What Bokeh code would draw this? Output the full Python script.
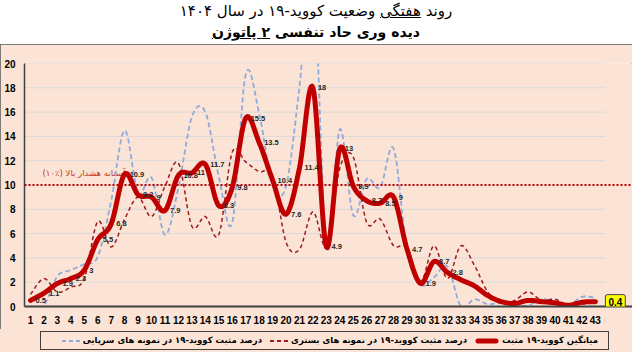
import numpy as np
from bokeh.plotting import figure
from bokeh.models import Range1d, FixedTicker, Span, Label, Div
from bokeh.layouts import column
from bokeh.embed import file_html
from bokeh.resources import INLINE
from bokeh.core.properties import value

# ---------------- data ----------------
weeks = list(range(1, 44))
mean_pos = [0.5, 1.1, 1.9, 2.3, 3, 5.5, 6.8, 10.9, 9.2, 9, 7.9, 10.8, 11, 11.7, 8.3,
            9.8, 15.5, 13.5, 10.4, 7.6, 11.4, 18, 4.9, 13, 9.9, 8.7, 8.5, 9, 4.7, 1.9,
            3.7, 2.8, 2.2, 1.7, 0.9, 0.4, 0.25, 0.5, 0.4, 0.3, 0.1, 0.35, 0.4]
inpatient = [1.0, 2.3, 1.2, 1.6, 2.3, 7.0, 4.9, 7.2, 9.0, 7.4, 9.9, 11.8, 6.6, 7.4, 5.9,
             12.7, 11.9, 11.1, 10.8, 5.3, 4.7, 7.8, 5.0, 11.4, 12.3, 6.9, 7.2, 5.0, 4.9, 2.0,
             5.0, 2.3, 5.0, 3.4, 1.2, 0.3, 0.5, 1.2, 0.5, 0.6, 0.1, 0.2, 0.3]
outpatient = [0.0, 0.1, 2.5, 3.0, 3.5, 4.1, 8.7, 14.5, 9.3, 10.6, 5.9, 9.8, 15.6, 16.0, 10.7,
              6.9, 19.1, 15.9, 10.0, 9.9, 18.1, 28.0, 4.8, 14.6, 7.5, 10.5, 9.8, 13.0, 4.5, 1.8,
              2.4, 3.3, 0.0, 0.6, 0.2, 0.3, 0.1, 0.1, 0.6, 0.4, 0.1, 0.8, 0.7]
labelled_weeks = 32
threshold = 10
y_ticks = list(range(0, 21, 2))

name_mean = "میانگین کووید-۱۹ مثبت"
name_in = "درصد  مثبت کووید-۱۹ در نمونه های بستری"
name_out = "درصد  مثبت کووید-۱۹ در نمونه های سرپایی"
threshold_text = "آستانه هشدار بالا (٪۱۰)"
title1 = 'روند <u>هفتگی</u> وضعیت کووید-۱۹ در سال ۱۴۰۴'
title2 = 'دیده وری حاد تنفسی <u>۲ پاتوژن</u>'


def smooth(xs, ys, n=14):
    """Excel-like smoothed line (cubic Bezier through the points)."""
    xs = np.asarray(xs, float)
    ys = np.asarray(ys, float)
    m = len(xs)
    px, py = [], []
    for i in range(m - 1):
        i0 = max(i - 1, 0)
        i3 = min(i + 2, m - 1)
        x1, y1, x2, y2 = xs[i], ys[i], xs[i + 1], ys[i + 1]
        c1x = x1 + (x2 - xs[i0]) / 6.0
        c1y = y1 + (y2 - ys[i0]) / 6.0
        c2x = x2 - (xs[i3] - x1) / 6.0
        c2y = y2 - (ys[i3] - y1) / 6.0
        t = np.linspace(0, 1, n, endpoint=(i == m - 2))
        a = (1 - t) ** 3
        b = 3 * (1 - t) ** 2 * t
        c = 3 * (1 - t) * t ** 2
        d = t ** 3
        px.extend(a * x1 + b * c1x + c * c2x + d * x2)
        py.extend(a * y1 + b * c1y + c * c2y + d * y2)
    return px, py


PINK = "#FBE4D5"
DARK = "#404040"
NUMFONT = "Liberation Sans"
ARFONT = "DejaVu Sans"
C_OUT, C_IN, C_MEAN = "#8FAADC", "#9E1B1B", "#C00000"
OUT_STYLE = dict(line_color=C_OUT, line_width=1.8, line_dash="5 3")
IN_STYLE = dict(line_color=C_IN, line_width=1.5, line_dash="4 3")
MEAN_STYLE = dict(line_color=C_MEAN, line_width=5, line_join="round", line_cap="round")

x_start = weeks[0] - 0.446
x_end = weeks[-1] + 2.76

p = figure(width=632, height=285, output_backend="svg", toolbar_location=None,
           x_range=Range1d(x_start, x_end), y_range=Range1d(0, 20),
           min_border_left=24, min_border_right=0, min_border_top=19, min_border_bottom=23,
           background_fill_color=PINK, border_fill_color=PINK, outline_line_color=None,
           margin=(0, 0, 0, 0))
p.grid.visible = False

# gridlines
gx1 = weeks[-1] + 0.75
p.segment(x0=[x_start] * (len(y_ticks) - 1), x1=[gx1] * (len(y_ticks) - 1),
          y0=y_ticks[1:], y1=y_ticks[1:], line_color="#D9D9D9", line_width=1)

# threshold
p.add_layout(Span(location=threshold, dimension="width", line_color=C_MEAN,
                  line_width=1.8, line_dash="2 2"))
p.add_layout(Label(x=weeks[0], y=threshold, x_offset=12, y_offset=12, text=threshold_text,
                   text_font=ARFONT, text_font_size="8.5px", text_color="#C0392B",
                   text_baseline="middle", level="underlay"))

# series
ox, oy = smooth(weeks, outpatient)
ix, iy = smooth(weeks, inpatient)
mx, my = smooth(weeks, mean_pos)
p.line(ox, oy, **OUT_STYLE)
p.line(ix, iy, **IN_STYLE)
p.line(mx, my, **MEAN_STYLE)

# data labels
label_text = [f"{v:g}" for v in mean_pos[:labelled_weeks]]
p.text(x=weeks[:labelled_weeks], y=mean_pos[:labelled_weeks], text=label_text,
       x_offset=5, text_baseline="middle", text_font=value(NUMFONT),
       text_font_size="7.5px", text_font_style="bold", text_color="#262626")

p.add_layout(Label(x=weeks[-1], y=mean_pos[-1], x_offset=10, text=f"{mean_pos[-1]:g}",
                   text_baseline="middle", text_font=NUMFONT, text_font_size="10px",
                   text_font_style="bold", text_color="#000000",
                   background_fill_color="#FFFF00", border_line_color=DARK,
                   border_line_width=1, padding=3, border_radius=2))

# axes
p.xaxis.ticker = FixedTicker(ticks=weeks)
p.yaxis.ticker = FixedTicker(ticks=y_ticks)
for ax in (p.xaxis, p.yaxis):
    ax.major_tick_out = 0
    ax.major_tick_in = 0
    ax.minor_tick_out = 0
    ax.minor_tick_in = 0
    ax.axis_line_color = DARK
    ax.major_label_text_font = NUMFONT
    ax.major_label_text_font_size = "10px"
    ax.major_label_text_font_style = "bold"
    ax.major_label_text_color = "#000000"
p.xaxis.axis_line_width = 2
p.yaxis.axis_line_width = 1.5
p.xaxis.major_label_standoff = 9
p.yaxis.major_label_standoff = 9


# legend strip (HTML, right-to-left like the original)
def swatch(color, solid):
    if solid:
        line = (f'<line x1="3" y1="5" x2="21" y2="5" stroke="{color}" stroke-width="5" '
                f'stroke-linecap="round"/>')
    else:
        line = (f'<line x1="0" y1="5" x2="18" y2="5" stroke="{color}" stroke-width="2" '
                f'stroke-dasharray="4 3"/>')
    w = 24 if solid else 18
    return (f'<svg width="{w}" height="10" style="display:block;flex:none;margin:0 3px 0 8px;">'
            f'{line}</svg>')


item_style = f"font-family:{ARFONT};font-size:8.5px;font-weight:bold;color:#000;white-space:nowrap;"
legend_html = (
    f'<div style="box-sizing:border-box;margin:2px 0 0 40px;width:569px;height:19px;'
    f'border:1px solid {DARK};background:{PINK};display:flex;flex-direction:row;direction:rtl;'
    f'align-items:center;padding-right:10px;overflow:hidden;">'
    f'<span style="{item_style}">{name_mean}</span>{swatch(C_MEAN, True)}'
    f'<span style="{item_style}">{name_in}</span>{swatch(C_IN, False)}'
    f'<span style="{item_style}">{name_out}</span>{swatch(C_OUT, False)}'
    f'</div>')
legend_div = Div(text=legend_html, width=632, height=23, margin=(0, 0, 0, 0),
                 styles={"background-color": PINK})

title = Div(text=f'<div style="font-family:{ARFONT};text-align:center;direction:rtl;width:632px;color:#000;padding-top:1px">'
                 f'<div style="font-size:15px;line-height:21px;">{title1}</div>'
                 f'<div style="font-size:14px;line-height:20px;font-weight:bold;">{title2}</div></div>',
            width=632, height=44, margin=(0, 0, 0, 0))

box = column(p, legend_div, margin=(0, 0, 0, 0), spacing=0,
             styles={"outline": "1px solid #595959", "outline-offset": "-1px"})
layout = column(title, box, margin=(0, 0, 0, 0), spacing=0)

with open("out.html", "w") as f:
    f.write(file_html(layout, INLINE))
